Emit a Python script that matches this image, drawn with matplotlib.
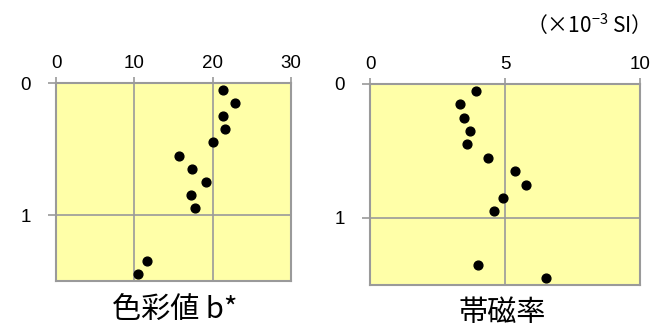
import matplotlib
matplotlib.use("Agg")
import matplotlib.pyplot as plt

plt.rcParams['font.family'] = ['Liberation Sans', 'Noto Sans CJK JP', 'DejaVu Sans']
plt.rcParams['mathtext.fontset'] = 'custom'
plt.rcParams['mathtext.rm'] = 'Liberation Sans'
plt.rcParams['mathtext.it'] = 'Liberation Sans'
plt.rcParams['mathtext.default'] = 'regular'

depth = [0.05, 0.15, 0.25, 0.35, 0.45, 0.55, 0.65, 0.75, 0.85, 0.95, 1.35, 1.45]
color_b = [21.3, 22.9, 21.3, 21.6, 20.1, 15.7, 17.3, 19.2, 17.2, 17.7, 11.6, 10.5]
suscept = [3.93, 3.32, 3.48, 3.72, 3.58, 4.36, 5.37, 5.77, 4.93, 4.59, 4.0, 6.51]

left_xticks = [0, 10, 20, 30]
right_xticks = [0, 5, 10]
yticks = [0, 1]
titles = ['色彩値 b*', '帯磁率']
unit_label = '（×10$^{-3}$ SI）'

fig = plt.figure(figsize=(6.5, 3.31), dpi=100)
ax1 = fig.add_axes([56/650, 1-281/331, 235/650, 198/331])
ax2 = fig.add_axes([370/650, 1-285/331, 270/650, 201/331])

grey = '#9a9a9a'
for ax, xs, xt, xmax in [(ax1, color_b, left_xticks, 30), (ax2, suscept, right_xticks, 10)]:
    ax.set_facecolor('#FFFFA8')
    ax.scatter(xs, depth, s=40, color='black', zorder=3, clip_on=False)
    ax.set_xlim(0, xmax)
    ax.set_ylim(1.5, 0)
    ax.set_xticks(xt)
    ax.set_yticks(yticks)
    ax.xaxis.tick_top()
    ax.grid(True, color=grey, linewidth=1.2)
    for s in ax.spines.values():
        s.set_color(grey)
        s.set_linewidth(1.5)
    ax.tick_params(axis='x', top=True, bottom=False, labeltop=True, labelbottom=False,
                   length=4, color=grey, width=1.2, labelsize=13.5, pad=4)
    ax.tick_params(axis='y', length=6, color=grey, width=1.2, labelsize=13.5, pad=12)

fig.text(175/650, 1-311/331, titles[0], ha='center', va='center', fontsize=21,
         family=['Noto Sans CJK JP', 'DejaVu Sans'])
fig.text(502/650, 1-313/331, titles[1], ha='center', va='center', fontsize=21,
         family=['Noto Sans CJK JP', 'DejaVu Sans'])
fig.text(583/650, 1-25/331, unit_label, ha='center', va='center', fontsize=15,
         family=['Noto Sans CJK JP', 'DejaVu Sans'])

fig.savefig('out.png', dpi=100)
